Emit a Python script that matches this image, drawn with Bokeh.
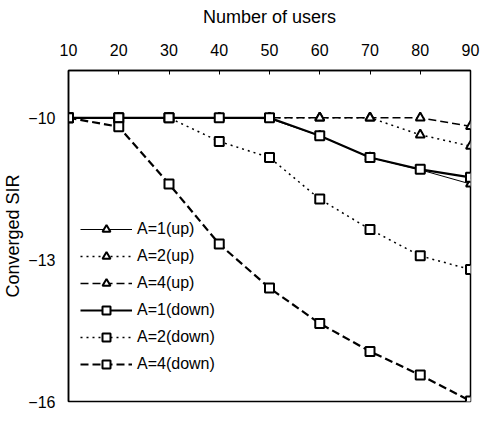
from bokeh.plotting import figure
from bokeh.models import FixedTicker, Legend, LegendItem, Range1d
from bokeh.embed import file_html
from bokeh.resources import INLINE

users = [10, 20, 30, 40, 50, 60, 70, 80, 90]
a1_up = [-10, -10, -10, -10, -10.02, -10.38, -10.84, -11.1, -11.4]
a2_up = [-10, -10, -10, -10, -10, -10, -10, -10.36, -10.6]
a4_up = [-10, -10, -10, -10, -10, -10, -10, -10, -10.18]
a1_down = [-10, -10, -10, -10, -10, -10.38, -10.84, -11.09, -11.26]
a2_down = [-10, -10, -10, -10.5, -10.84, -11.72, -12.36, -12.92, -13.21]
a4_down = [-10, -10.19, -11.4, -12.67, -13.6, -14.35, -14.94, -15.44, -15.99]
x_ticks = [10, 20, 30, 40, 50, 60, 70, 80, 90]
y_ticks = [-16, -13, -10]

FONT = "Liberation Sans"

p = figure(width=481, height=412, output_backend="svg", toolbar_location=None,
           x_axis_location="above",
           x_range=Range1d(10, 90), y_range=Range1d(-16, -9),
           min_border_left=63, min_border_right=11, min_border_top=70, min_border_bottom=11)
p.grid.visible = False
p.outline_line_color = "black"
p.outline_line_width = 1.5

p.xaxis.ticker = FixedTicker(ticks=x_ticks)
p.yaxis.ticker = FixedTicker(ticks=y_ticks)
p.xaxis.axis_label = "Number of users"
p.yaxis.axis_label = "Converged SIR"
for ax in (p.xaxis, p.yaxis):
    ax.axis_label_text_font = FONT
    ax.axis_label_text_font_size = "18px"
    ax.axis_label_text_font_style = "normal"
    ax.major_label_text_font = FONT
    ax.major_label_text_font_size = "16px"
    ax.major_label_text_color = "black"
    ax.axis_label_text_color = "black"
    ax.axis_line_width = 1.5
    ax.minor_tick_line_color = None
    ax.major_tick_out = 0
p.xaxis.major_tick_in = 4
p.yaxis.major_tick_in = 0
p.xaxis.major_label_standoff = 15
p.xaxis.axis_label_standoff = 14
p.yaxis.major_label_standoff = 13
p.yaxis.axis_label_standoff = 2

series = [
    ("A=1(up)", a1_up, "solid", 1, "triangle"),
    ("A=2(up)", a2_up, "2 4", 1.5, "triangle"),
    ("A=4(up)", a4_up, "8 4", 1.5, "triangle"),
    ("A=1(down)", a1_down, "solid", 2.2, "square"),
    ("A=2(down)", a2_down, "2 4", 1.5, "square"),
    ("A=4(down)", a4_down, "8 4", 2.2, "square"),
]

items = []
for name, ys, dash, lw, mk in series:
    r1 = p.line(users, ys, line_color="black", line_width=lw, line_dash=dash)
    r2 = p.scatter(users, ys, marker=mk, size=9, line_color="black",
                   fill_color="white", line_width=2)
    items.append(LegendItem(label=name, renderers=[r1, r2]))

legend = Legend(items=items, location=(12, 27), border_line_color=None,
                background_fill_alpha=0, padding=0, margin=0,
                glyph_width=52, glyph_height=20, label_height=20, spacing=7,
                label_standoff=5, label_text_font=FONT, label_text_font_size="16px",
                label_text_color="black")
p.add_layout(legend, "center")

open("out.html", "w").write(file_html(p, INLINE))
